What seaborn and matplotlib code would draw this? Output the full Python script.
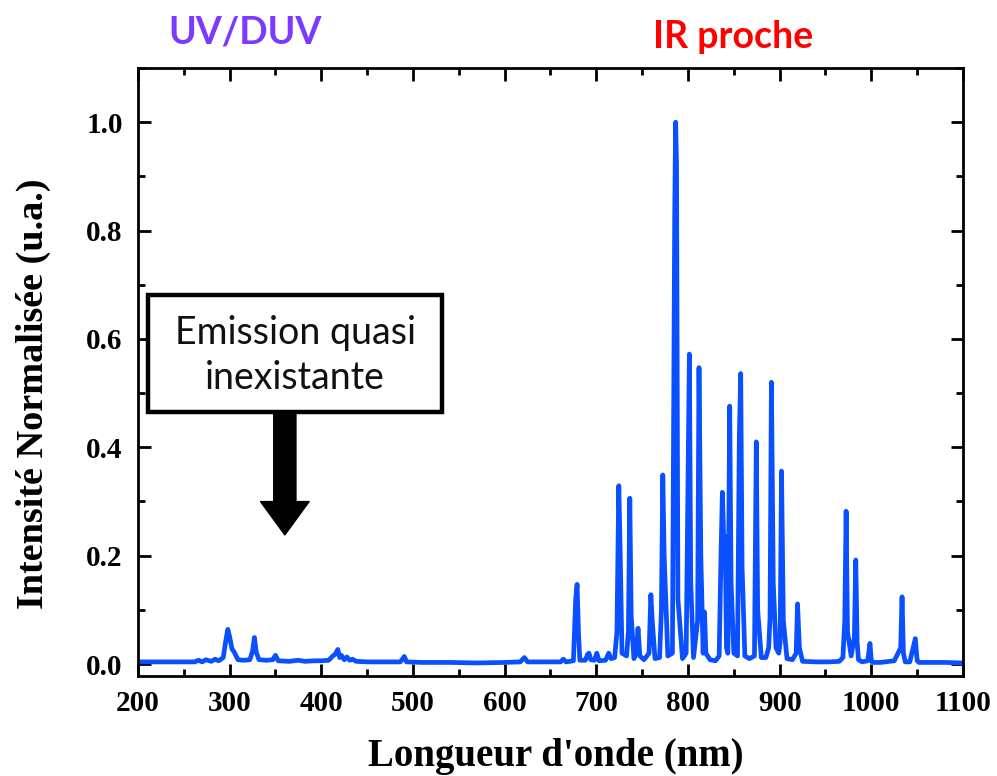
import matplotlib
matplotlib.use('Agg')
import matplotlib.pyplot as plt
import seaborn as sns
from matplotlib.patches import Rectangle
from matplotlib.ticker import MultipleLocator

# spectrum as (nm, normalised intensity) pairs
uv_points = [
    (200, 0.004), (230, 0.004), (262, 0.004), (266, 0.007), (270, 0.004),
    (274, 0.008), (280, 0.005), (284, 0.009), (288, 0.006), (293, 0.012),
    (296, 0.045), (298, 0.064), (300, 0.050), (302.5, 0.028), (305, 0.022),
    (309, 0.008), (316, 0.007), (322, 0.008), (325, 0.024), (327, 0.049),
    (329, 0.022), (332, 0.008), (340, 0.007), (347, 0.008), (350, 0.016),
    (353, 0.006), (365, 0.005), (375, 0.007), (382, 0.005), (392, 0.006),
]
visible_points = [
    (400, 0.006), (408, 0.007), (412, 0.014), (415, 0.018), (418, 0.027),
    (420, 0.012), (422, 0.016), (425, 0.008), (428, 0.013), (431, 0.007),
    (434, 0.009), (438, 0.005), (450, 0.004), (470, 0.004), (486, 0.004),
    (488.5, 0.009), (490.5, 0.014), (493, 0.004), (510, 0.003), (540, 0.003),
    (570, 0.002), (600, 0.003), (617, 0.004), (621.5, 0.012), (625, 0.004),
    (650, 0.004), (661, 0.004), (664, 0.009), (667, 0.004), (675, 0.006),
]
ir_points = [
    (677.5, 0.120), (679, 0.147), (680.5, 0.060), (682, 0.007), (688, 0.007),
    (690.5, 0.018), (692, 0.020), (694, 0.008), (698, 0.007), (700.5, 0.020),
    (703, 0.006), (710, 0.007), (713.5, 0.020), (716, 0.010), (720, 0.012),
    (722.5, 0.060), (724.5, 0.329), (726, 0.210), (728, 0.020), (733, 0.015),
    (735, 0.060), (736.5, 0.306), (738, 0.090), (741, 0.010), (743.5, 0.020),
    (745.5, 0.066), (747.5, 0.015), (752, 0.008), (757.5, 0.020), (759.5, 0.128),
    (761, 0.080), (764, 0.010), (769, 0.012), (771, 0.100), (772.5, 0.349),
    (774, 0.200), (778, 0.015), (783, 0.020), (785.5, 0.830), (786.5, 1.000),
    (787.5, 0.920), (789, 0.120), (794, 0.010), (798, 0.020), (800, 0.335),
    (801.5, 0.572), (803, 0.150), (806, 0.012), (810.5, 0.080), (812, 0.547),
    (814, 0.200), (816.5, 0.020), (818, 0.096), (819.5, 0.020), (824, 0.008),
    (830, 0.006), (834, 0.015), (836, 0.200), (837.5, 0.317), (839, 0.230),
    (840.5, 0.236), (842, 0.030), (843.5, 0.020), (845.5, 0.476), (847, 0.150),
    (850, 0.020), (854, 0.015), (856, 0.420), (857.5, 0.536), (859, 0.180),
    (862, 0.015), (867, 0.010), (872.5, 0.015), (874.5, 0.410), (876, 0.100),
    (880, 0.012), (885, 0.012), (888, 0.030), (889.5, 0.085), (891, 0.520),
    (893, 0.150), (896, 0.030), (899, 0.020), (900.5, 0.040), (902, 0.356),
    (904, 0.080), (908, 0.010), (914, 0.008), (918, 0.020), (919.5, 0.111),
    (921.5, 0.030), (925, 0.005), (940, 0.004), (955, 0.004), (965, 0.005),
    (969, 0.012), (971, 0.080), (972.5, 0.282), (974, 0.060), (978, 0.015),
    (981.5, 0.050), (983, 0.192), (984.5, 0.040), (986, 0.008), (990, 0.004),
    (996, 0.006), (998.5, 0.038), (1000, 0.005), (1002, 0.003), (1010, 0.003),
    (1025, 0.006), (1032, 0.030), (1033.5, 0.124), (1035, 0.020), (1037, 0.004),
    (1042, 0.004), (1048, 0.047), (1050, 0.006), (1052, 0.003), (1060, 0.003),
    (1080, 0.003), (1100, 0.002),
]

x_ticks = [200, 300, 400, 500, 600, 700, 800, 900, 1000, 1100]
y_ticks = [0.0, 0.2, 0.4, 0.6, 0.8, 1.0]
y_tick_labels = ['0.0', '0.2', '0.4', '0.6', '0.8', '1.0']

line_color = '#0A50FF'

spectrum = uv_points + visible_points + ir_points
wavelength_nm = [p[0] for p in spectrum]
intensity = [p[1] for p in spectrum]

sns.set_theme(style='ticks')
plt.rcParams['font.family'] = ['Liberation Serif', 'DejaVu Serif']
plt.rcParams['text.color'] = 'black'
plt.rcParams['axes.labelcolor'] = 'black'
plt.rcParams['xtick.color'] = 'black'
plt.rcParams['ytick.color'] = 'black'

fig = plt.figure(figsize=(9.97, 7.76), dpi=100)
ax = fig.add_axes([0.1384, 0.1289, 0.8275, 0.7835])

sns.lineplot(x=wavelength_nm, y=intensity, ax=ax, color=line_color,
             linewidth=3.4, estimator=None, sort=False)

ax.set_xlim(200, 1100)
ax.set_ylim(-0.022, 1.10)
ax.set_xticks(x_ticks)
ax.set_xticklabels([str(t) for t in x_ticks])
ax.set_yticks(y_ticks)
ax.set_yticklabels(y_tick_labels)
ax.xaxis.set_minor_locator(MultipleLocator(50))
ax.yaxis.set_minor_locator(MultipleLocator(0.1))
ax.tick_params(which='both', direction='in', top=True, right=True,
               width=2, color='black', labelcolor='black')
ax.tick_params(which='major', length=9)
ax.tick_params(which='minor', length=5)
ax.tick_params(axis='x', which='major', pad=10)
ax.tick_params(axis='y', which='major', pad=11)
for lab in ax.get_xticklabels() + ax.get_yticklabels():
    lab.set_fontsize(21)
    lab.set_fontweight('bold')
for sp in ax.spines.values():
    sp.set_linewidth(2)
    sp.set_color('black')

ax.set_xlabel("Longueur d'onde (nm)", fontsize=28, fontweight='bold', color='black')
ax.set_ylabel('Intensité Normalisée (u.a.)', fontsize=27.5, fontweight='bold', color='black')
ax.xaxis.set_label_coords(0.507, -0.102)
ax.yaxis.set_label_coords(-0.105, 0.464)

# region labels above the plot
fig.text(245 / 997, 1 - 33 / 776, 'UV/DUV', ha='center', va='center',
         family='Lato', fontweight='bold', fontsize=27, color='#7B3BFF')
fig.text(733 / 997, 1 - 37 / 776, 'IR proche', ha='center', va='center',
         family='Lato', fontweight='bold', fontsize=27, color='#FF0000')

# annotation box with arrow
ax.add_patch(Rectangle((0.0121, 0.4342), 0.3564, 0.1924, transform=ax.transAxes,
                       facecolor='white', edgecolor='black', linewidth=3.2, zorder=5))
ax.text(0.1905, 0.527, 'Emission quasi\ninexistante', transform=ax.transAxes,
        ha='center', va='center', family='Lato', fontsize=27, linespacing=1.3,
        color='#111111', zorder=6)
ax.annotate('', xy=(0.178, 0.232), xytext=(0.178, 0.434), xycoords='axes fraction',
            arrowprops=dict(arrowstyle='simple,head_length=2.4,head_width=3.5,tail_width=1.6',
                            color='black', shrinkA=0, shrinkB=0, mutation_scale=10),
            zorder=6)

fig.savefig('out.png', dpi=100)
plt.close(fig)
